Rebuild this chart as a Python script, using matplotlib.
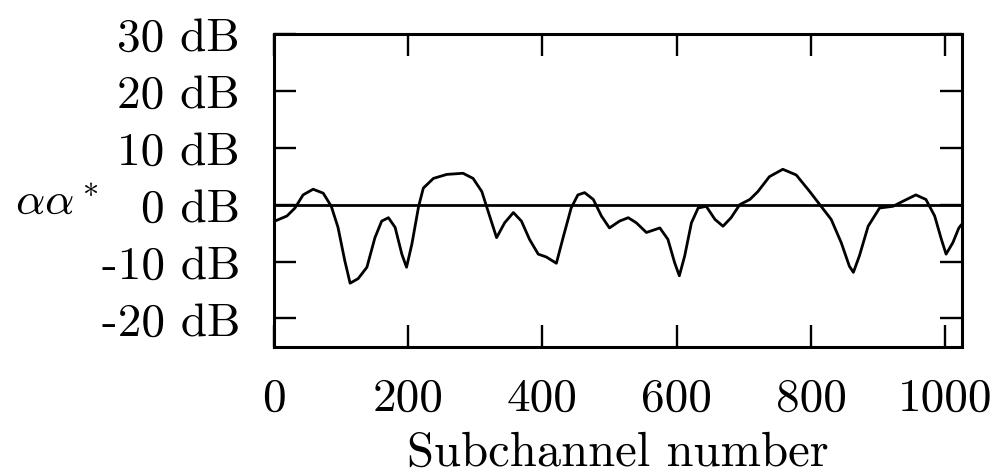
import matplotlib
matplotlib.use("Agg")
import matplotlib.pyplot as plt

plt.rcParams['font.family'] = 'cmr10'
plt.rcParams['mathtext.fontset'] = 'cm'
plt.rcParams['axes.unicode_minus'] = False
plt.rcParams['axes.formatter.use_mathtext'] = True

# curve (subchannel, dB)
subchannel = [0, 2, 20, 32, 44, 59, 74, 86, 96, 106, 114, 126, 139, 151, 161, 171,
              181, 191, 198, 206, 216, 223, 238, 258, 282, 297, 310, 320, 332, 344,
              357, 369, 381, 394, 406, 421, 431, 443, 453, 463, 476, 488,
              500, 515, 528, 540, 555, 575, 587, 597, 604, 612, 622, 632, 644,
              657, 669, 681, 694, 709, 721, 738, 758, 778, 798, 813, 830, 845,
              857, 863, 872, 885, 902, 922, 937, 956, 971, 984, 994, 1001, 1011,
              1020, 1024]
gain_db = [-3.2, -2.9, -2.0, -0.6, 1.7, 2.7, 2.0, -0.3, -4.0, -9.8, -13.8, -13.0,
           -11.0, -5.8, -2.9, -2.3, -4.0, -8.7, -11.0, -6.9, -0.3, 2.9, 4.6, 5.3,
           5.5, 4.6, 2.3, -1.4, -5.8, -3.2, -1.4, -2.9, -6.1, -8.7, -9.2, -10.3,
           -5.8, -0.6, 1.7, 2.1, 0.9, -2.0,
           -4.1, -2.9, -2.3, -3.2, -4.9, -4.1, -6.1, -10.2, -12.5, -9.0, -3.2,
           -0.6, -0.3, -2.6, -3.8, -2.3, 0.0, 0.9, 2.3, 4.9, 6.2, 5.2, 2.3, 0.0,
           -2.6, -6.7, -10.8, -11.9, -9.0, -3.8, -0.6, -0.3, 0.6, 1.7, 0.9, -2.0,
           -6.1, -8.7, -6.7, -4.1, -3.5]

x_ticks = [0, 200, 400, 600, 800, 1000]
y_ticks = [-20, -10, 0, 10, 20, 30]
y_labels = ['-20 dB', '-10 dB', '0 dB', '10 dB', '20 dB', '30 dB']

fig = plt.figure(figsize=(9.96, 4.77), dpi=100)
ax = fig.add_axes([0.2746, 0.2705, 0.6908, 0.6567])

ax.plot(subchannel, gain_db, color='black', lw=2.0,
        solid_joinstyle='round', solid_capstyle='round')
ax.axhline(0, color='black', lw=2.0)

ax.set_xlim(0, 1024)
ax.set_ylim(-25, 30)
ax.set_xticks(x_ticks)
ax.set_xticklabels([str(t) for t in x_ticks])
ax.set_yticks(y_ticks)
ax.set_yticklabels(y_labels)

ax.tick_params(direction='in', length=16, width=1.7, top=True, right=True,
               labelsize=34, pad=22)
ax.tick_params(axis='y', pad=24)
for s in ax.spines.values():
    s.set_linewidth(2.2)

ax.set_xlabel('Subchannel number', fontsize=35, labelpad=8)
fig.text(0.015, 0.574, r'$\alpha\alpha^*$', fontsize=33, va='center', ha='left')

fig.savefig('out.png', dpi=100, facecolor='white')
